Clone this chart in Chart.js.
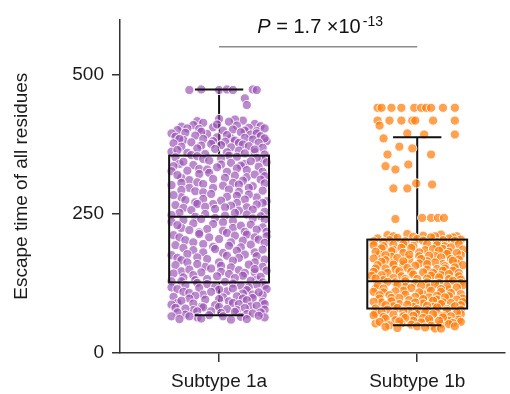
<!DOCTYPE html>
<html>
<head>
<meta charset="utf-8">
<script src="https://cdn.jsdelivr.net/npm/chart.js@4"></script>
<style>
  body { margin: 0; background: #fff; }
  canvas { display: block; }
</style>
</head>
<body>
<canvas id="chart" width="510" height="394"></canvas>
<script>
"use strict";
// categories and tick labels
const categories = ["Subtype 1a", "Subtype 1b"];
const categoryPos = [0.5, 1.5];
const yTicks = [0, 250, 500];
// box statistics
const whiskerLow = [68, 50];
const q1 = [127, 80];
const median = [245, 129];
const q3 = [355, 204];
const whiskerHigh = [474, 388];
// p value annotation
const pLabel = ["P", " = 1.7 \u00d710", "-13"];
const pLineValue = 551;

// jittered points: [offset from category centre, escape time]
const points1a = [
  [-0.15,473],[-0.09,474],[0.00,473],[0.04,474],[0.07,473],[0.17,474],[0.19,473],[0.13,458],[0.14,446],
  [0.00,421],[0.12,418],[-0.11,417],[0.08,420],
  [-0.08,414],[0.05,416],[0.18,412],
  [-0.19,407],[-0.13,410],[-0.03,406],[0.09,409],[0.15,405],
  [-0.16,404],[-0.01,411],[0.13,400],[0.21,408],
  [-0.21,401],[-0.10,403],[0.02,400],[0.07,402],[0.19,399],[0.23,404],
  [-0.17,396],[-0.06,394],[0.11,397],[0.16,393],
  [-0.24,395],[-0.09,398],[0.06,386],[0.19,395],
  [-0.22,389],[-0.12,391],[-0.01,388],[0.04,392],[0.13,387],[0.21,390],
  [-0.18,383],[-0.08,385],[0.08,382],[0.17,384],[0.24,381],
  [-0.20,385],[-0.03,381],[0.10,378],[0.23,386],
  [-0.23,377],[-0.14,379],[-0.04,376],[0.03,380],[0.12,375],[0.20,378],
  [-0.19,371],[-0.09,373],[0.06,370],[0.15,372],[0.22,369],
  [-0.11,368],[0.01,374],[0.18,361],[-0.24,362],
  [-0.21,365],[-0.02,367],[0.10,364],[0.18,366],
  [-0.16,360],[-0.07,358],[0.04,361],[0.13,359],[0.23,357],
  [-0.14,356],[0.05,355],[0.22,348],
  [-0.22,352],[-0.11,354],[0.01,350],[0.09,353],[0.19,351],
  [-0.08,349],[-0.20,340],[0.13,340],[0.01,339],
  [-0.18,344],[-0.05,346],[0.06,342],[0.16,345],[0.24,343],
  [-0.23,336],[-0.13,338],[-0.01,334],[0.11,337],[0.20,335],
  [-0.10,331],[0.09,332],[0.22,326],[-0.24,327],
  [-0.16,328],[-0.06,330],[0.04,326],[0.14,329],
  [-0.05,324],[0.14,316],[-0.19,315],[0.03,315],
  [-0.21,320],[-0.10,322],[0.08,319],[0.18,321],[0.23,318],
  [-0.15,311],[-0.03,313],[0.12,310],[0.21,312],
  [-0.11,307],[0.07,306],[0.23,305],[-0.19,306],
  [-0.24,302],[-0.08,304],[0.02,301],[0.10,303],[0.17,300],
  [-0.03,297],[0.15,297],[-0.15,297],[0.10,290],
  [-0.19,293],[-0.12,291],[0.05,294],[0.22,292],
  [-0.08,289],[0.19,280],[-0.19,280],[0.04,281],
  [-0.23,284],[-0.04,286],[0.09,283],[0.15,285],
  [-0.17,275],[-0.08,277],[0.01,274],[0.13,276],[0.24,273],
  [-0.12,271],[0.09,270],[-0.03,268],[0.22,270],
  [-0.22,266],[-0.11,268],[0.06,265],[0.19,267],
  [-0.18,261],[0.03,262],[0.14,262],[-0.07,263],
  [-0.14,257],[-0.02,259],[0.10,256],[0.17,258],
  [-0.20,252],[0.08,252],[0.23,254],[-0.12,245],
  [-0.24,248],[-0.07,250],[0.03,247],[0.14,249],[0.21,246],
  [-0.02,243],[0.17,242],[-0.24,236],[0.02,235],
  [-0.18,239],[-0.09,241],[0.07,238],[0.23,240],
  [-0.13,233],[0.07,225],[0.22,226],[-0.19,225],
  [-0.21,230],[-0.03,232],[0.11,229],[0.16,231],
  [-0.15,221],[-0.06,223],[0.02,220],[0.19,222],
  [-0.10,217],[0.13,218],[0.04,216],[0.24,218],
  [-0.23,212],[-0.10,214],[0.08,211],[0.14,213],[0.24,210],
  [-0.05,208],[0.18,208],[-0.20,208],[0.06,199],
  [-0.17,203],[0.00,205],[0.12,202],[0.20,204],
  [-0.13,199],[0.23,198],[-0.03,191],[0.11,190],
  [-0.22,194],[-0.08,196],[0.05,193],[0.16,195],
  [-0.18,189],[0.18,181],[-0.08,181],[0.02,180],
  [-0.13,185],[-0.02,187],[0.09,184],[0.22,186],
  [-0.24,176],[-0.16,178],[0.04,175],[0.13,177],[0.19,174],
  [-0.21,171],[0.10,171],[-0.11,172],[0.00,163],
  [-0.19,167],[-0.06,169],[0.07,166],[0.23,168],
  [0.18,163],[-0.16,163],[0.06,154],[-0.07,155],
  [-0.22,158],[-0.11,160],[0.01,157],[0.15,159],
  [0.22,155],[-0.19,147],[0.01,146],[0.18,145],
  [-0.15,150],[-0.04,152],[0.10,149],[0.18,151],[0.24,148],
  [-0.23,143],[-0.09,145],[0.05,142],[0.13,144],
  [-0.13,140],[0.12,139],[-0.06,133],[0.19,132],
  [-0.18,136],[-0.01,138],[0.08,135],[0.21,137],
  [-0.24,129],[-0.12,131],[0.03,128],[0.16,130],[0.22,127],
  [-0.19,129],[0.07,125],[-0.11,126],[0.23,122],
  [-0.17,122],[-0.06,124],[0.11,121],[0.19,123],
  [-0.02,119],[0.15,118],[-0.24,118],[0.04,111],
  [-0.21,115],[-0.10,117],[0.00,114],[0.07,116],[0.14,113],[0.24,115],
  [-0.18,110],[0.17,105],[-0.08,105],[0.22,104],
  [-0.15,108],[-0.04,110],[0.12,107],[0.20,109],
  [-0.23,101],[-0.12,103],[0.02,100],[0.09,102],[0.17,99],
  [-0.15,98],[0.00,97],[0.12,98],[-0.21,90],
  [-0.19,94],[-0.07,96],[0.05,93],[0.14,95],[0.22,92],
  [0.07,90],[0.23,88],[-0.09,83],[0.16,84],
  [-0.24,87],[-0.13,89],[-0.02,86],[0.10,88],[0.19,85],
  [-0.22,81],[0.00,83],[-0.13,77],[0.09,77],
  [-0.17,80],[-0.08,82],[0.04,79],[0.13,81],[0.23,78],
  [0.21,73],[-0.04,75],[-0.17,69],[0.14,70],
  [-0.21,73],[-0.11,75],[0.01,72],[0.08,74],[0.17,71],
  [0.02,66],[-0.24,66],[0.23,64],[-0.11,64],
  [-0.15,66],[-0.05,68],[0.11,65],[0.20,67],
  [-0.20,61],[-0.09,62],[0.06,60],[0.14,61]
];
const points1b = [
  [-0.20,441],[-0.18,441],[-0.13,441],[-0.08,441],[-0.015,441],[0.02,441],[0.045,441],[0.07,441],[0.13,441],[0.19,441],
  [-0.20,418],[-0.14,418],[-0.08,418],[-0.025,418],[-0.01,418],[0.08,418],[0.19,418],[-0.19,409],
  [-0.17,386],[-0.05,395],[0.035,393],[0.19,393],
  [-0.09,371],[-0.025,368],[-0.15,357],[0.07,357],
  [-0.045,339],[-0.16,336],[-0.11,330],
  [-0.005,305],[0.075,303],[-0.12,296],[-0.05,296],
  [-0.11,241],[0.025,243],[0.07,243],[0.105,243],[0.135,243],
  [-0.15,212],[-0.05,214],[0.03,211],[0.12,213],[0.20,210],
  [-0.12,210],[0.09,210],[-0.02,209],[0.18,208],
  [-0.20,206],[-0.10,207],[0.00,205],[0.07,208],[0.16,206],[0.22,204],
  [-0.14,203],[0.03,202],[0.13,203],[-0.22,201],
  [-0.17,200],[-0.06,201],[0.10,199],[0.19,202],
  [-0.07,196],[0.10,194],[0.21,196],[-0.17,192],
  [-0.22,194],[-0.12,195],[-0.02,193],[0.05,196],[0.14,192],
  [-0.03,189],[0.13,187],[-0.12,185],[0.04,185],
  [-0.18,188],[-0.08,189],[0.08,187],[0.17,190],[0.23,186],
  [-0.07,180],[0.16,182],[-0.19,177],[0.22,176],
  [-0.21,182],[-0.13,183],[0.01,181],[0.11,184],[0.20,180],
  [0.01,174],[-0.13,173],[0.09,174],[-0.04,168],
  [-0.16,176],[-0.04,177],[0.06,175],[0.15,178],
  [0.17,169],[-0.16,167],[0.05,165],[-0.12,162],
  [-0.22,170],[-0.10,171],[0.02,169],[0.12,172],[0.21,168],
  [0.13,160],[-0.07,159],[0.20,161],[0.01,161],
  [-0.18,164],[-0.07,165],[0.09,163],[0.18,166],
  [-0.20,158],[-0.12,159],[-0.01,157],[0.05,160],[0.14,156],[0.23,158],
  [-0.21,152],[0.05,150],[0.14,152],[-0.11,150],
  [-0.16,152],[-0.05,153],[0.10,151],[0.19,154],
  [-0.03,146],[0.08,144],[0.18,148],[-0.15,144],
  [-0.22,146],[-0.09,147],[0.03,145],[0.13,148],[0.21,144],
  [-0.08,138],[0.12,140],[0.21,138],[-0.23,139],
  [-0.18,140],[-0.02,141],[0.07,139],[0.16,142],
  [-0.06,133],[0.05,134],[0.16,133],[-0.17,131],
  [-0.21,134],[-0.12,135],[0.00,133],[0.11,136],[0.22,132],
  [-0.01,126],[0.11,126],[-0.11,127],[0.22,126],
  [-0.15,128],[-0.06,129],[0.05,127],[0.18,130],
  [-0.06,119],[0.06,118],[-0.21,116],[0.16,114],
  [-0.20,122],[-0.10,123],[0.02,121],[0.09,124],[0.15,120],[0.23,122],
  [-0.17,116],[-0.03,117],[0.12,115],[0.20,118],
  [-0.07,112],[0.12,110],[-0.17,109],[0.03,106],
  [-0.22,110],[-0.11,111],[0.01,109],[0.07,112],[0.17,108],
  [-0.19,104],[0.16,102],[-0.01,101],[0.06,100],
  [-0.14,104],[-0.06,105],[0.10,103],[0.22,106],
  [-0.13,99],[0.10,96],[0.23,98],[-0.04,95],
  [-0.19,98],[-0.09,99],[0.03,97],[0.14,100],[0.20,96],
  [-0.18,91],[0.03,89],[0.13,91],[-0.09,88],
  [-0.22,92],[-0.13,93],[-0.01,91],[0.08,94],[0.17,90],[0.23,92],
  [0.22,86],[-0.12,84],[0.08,83],[-0.02,83],
  [-0.16,86],[-0.05,87],[0.05,85],[0.12,88],[0.19,84],
  [-0.15,78],[0.15,79],[0.05,77],[-0.04,76],
  [-0.21,80],[-0.10,81],[0.00,79],[0.10,82],[0.22,78],
  [-0.21,72],[0.10,72],[0.00,70],[0.22,70],
  [-0.18,74],[-0.07,75],[0.04,73],[0.15,76],[0.20,72],
  [-0.07,66],[0.13,67],[-0.17,65],[0.03,63],
  [-0.22,68],[-0.12,69],[-0.02,67],[0.08,70],[0.17,66],
  [-0.11,59],[0.16,58],[-0.02,58],[0.07,57],
  [-0.16,62],[-0.06,63],[0.06,61],[0.13,64],[0.21,60],
  [-0.21,53],[0.12,52],[0.22,56],[-0.08,53],
  [-0.19,56],[-0.09,57],[0.02,55],[0.11,58],[0.18,54],
  [-0.14,50],[-0.03,51],[0.07,49],[0.16,52],
  [-0.16,47],[0.00,48],[0.19,48],[0.09,44],
  [-0.10,45],[0.04,46],[0.12,44]
];

const FONT = "'Liberation Sans', Arial, sans-serif";
const BOX_HALF = 0.252;
const CAP_HALF = 0.122;

function toXY(points, centre) {
    return points.map(p => ({ x: centre + p[0], y: p[1] }));
}

// draws whiskers, boxes and the p value bracket through the chart scales
const boxPlugin = {
    id: "boxes",
    beforeDatasetsDraw(chart) {
        const { ctx, scales: { x, y } } = chart;
        ctx.save();
        ctx.strokeStyle = "#111";
        ctx.lineWidth = 2;
        categoryPos.forEach((c, i) => {
            const cx = x.getPixelForValue(c);
            ctx.beginPath();
            ctx.moveTo(cx, y.getPixelForValue(q3[i]));
            ctx.lineTo(cx, y.getPixelForValue(whiskerHigh[i]));
            ctx.moveTo(cx, y.getPixelForValue(q1[i]));
            ctx.lineTo(cx, y.getPixelForValue(whiskerLow[i]));
            ctx.stroke();
        });
        ctx.restore();
    },
    afterDatasetsDraw(chart) {
        const { ctx, scales: { x, y } } = chart;
        ctx.save();
        ctx.strokeStyle = "#111";
        ctx.lineWidth = 2;
        categoryPos.forEach((c, i) => {
            const left = x.getPixelForValue(c - BOX_HALF);
            const right = x.getPixelForValue(c + BOX_HALF);
            const top = y.getPixelForValue(q3[i]);
            const bottom = y.getPixelForValue(q1[i]);
            ctx.strokeRect(left, top, right - left, bottom - top);
            const med = y.getPixelForValue(median[i]);
            ctx.beginPath();
            ctx.moveTo(left, med);
            ctx.lineTo(right, med);
            const capL = x.getPixelForValue(c - CAP_HALF);
            const capR = x.getPixelForValue(c + CAP_HALF);
            [whiskerHigh[i], whiskerLow[i]].forEach(v => {
                const py = y.getPixelForValue(v);
                ctx.moveTo(capL, py);
                ctx.lineTo(capR, py);
            });
            ctx.stroke();
        });
        // p value bracket
        const ly = y.getPixelForValue(pLineValue);
        ctx.strokeStyle = "#8c8c8c";
        ctx.lineWidth = 1.5;
        ctx.beginPath();
        ctx.moveTo(x.getPixelForValue(categoryPos[0]), ly);
        ctx.lineTo(x.getPixelForValue(categoryPos[1]), ly);
        ctx.stroke();
        // p value text
        const mainFont = "20px " + FONT;
        const italFont = "italic 20px " + FONT;
        const supFont = "14px " + FONT;
        ctx.textBaseline = "alphabetic";
        ctx.font = italFont;
        const w0 = ctx.measureText(pLabel[0]).width;
        ctx.font = mainFont;
        const w1 = ctx.measureText(pLabel[1]).width;
        ctx.font = supFont;
        const w2 = ctx.measureText(pLabel[2]).width;
        const total = w0 + w1 + w2 + 2;
        let tx = (x.getPixelForValue(categoryPos[0]) + x.getPixelForValue(categoryPos[1])) / 2 + 2 - total / 2;
        const base = ly - 14;
        ctx.fillStyle = "#111";
        ctx.font = italFont;
        ctx.fillText(pLabel[0], tx, base);
        tx += w0;
        ctx.font = mainFont;
        ctx.fillText(pLabel[1], tx, base);
        tx += w1 + 2;
        ctx.font = supFont;
        ctx.fillText(pLabel[2], tx, base - 7);
        ctx.restore();
    }
};

const chart = new Chart(document.getElementById("chart"), {
    type: "scatter",
    data: {
        datasets: [
            {
                label: categories[0],
                data: toXY(points1a, categoryPos[0]),
                backgroundColor: "rgba(150, 78, 178, 0.66)",
                borderColor: "rgba(255, 255, 255, 0.9)",
                borderWidth: 1,
                pointRadius: 4.6
            },
            {
                label: categories[1],
                data: toXY(points1b, categoryPos[1]),
                backgroundColor: "rgba(255, 125, 10, 0.72)",
                borderColor: "rgba(255, 255, 255, 0.9)",
                borderWidth: 1,
                pointRadius: 4.6
            }
        ]
    },
    options: {
        responsive: false,
        animation: false,
        devicePixelRatio: 1,
        layout: { padding: { top: 17, right: 0, left: 0, bottom: 0 } },
        plugins: {
            legend: { display: false },
            tooltip: { enabled: false }
        },
        scales: {
            x: {
                type: "linear",
                min: 0,
                max: 1.94,
                border: { color: "#333", width: 1.5 },
                grid: { drawOnChartArea: false, tickLength: 9, color: "#333", lineWidth: 1.5 },
                ticks: {
                    font: { size: 19, family: FONT },
                    color: "#1a1a1a",
                    padding: 8,
                    callback: (v) => categories[categoryPos.indexOf(v)]
                },
                afterBuildTicks: (s) => { s.ticks = categoryPos.map(v => ({ value: v })); },
                afterFit: (s) => { s.height = 41; }
            },
            y: {
                min: 0,
                max: 600,
                border: { color: "#333", width: 1.5 },
                grid: { drawOnChartArea: false, tickLength: 8, color: "#333", lineWidth: 1.5 },
                ticks: {
                    font: { size: 19, family: FONT },
                    color: "#1a1a1a",
                    padding: 8
                },
                title: {
                    display: true,
                    text: "Escape time of all residues",
                    font: { size: 19, family: FONT },
                    color: "#1a1a1a",
                    padding: { top: 10, bottom: 0 }
                },
                afterBuildTicks: (s) => { s.ticks = yTicks.map(v => ({ value: v })); },
                afterFit: (s) => { s.width = 120; }
            }
        }
    },
    plugins: [boxPlugin]
});
</script>
</body>
</html>
